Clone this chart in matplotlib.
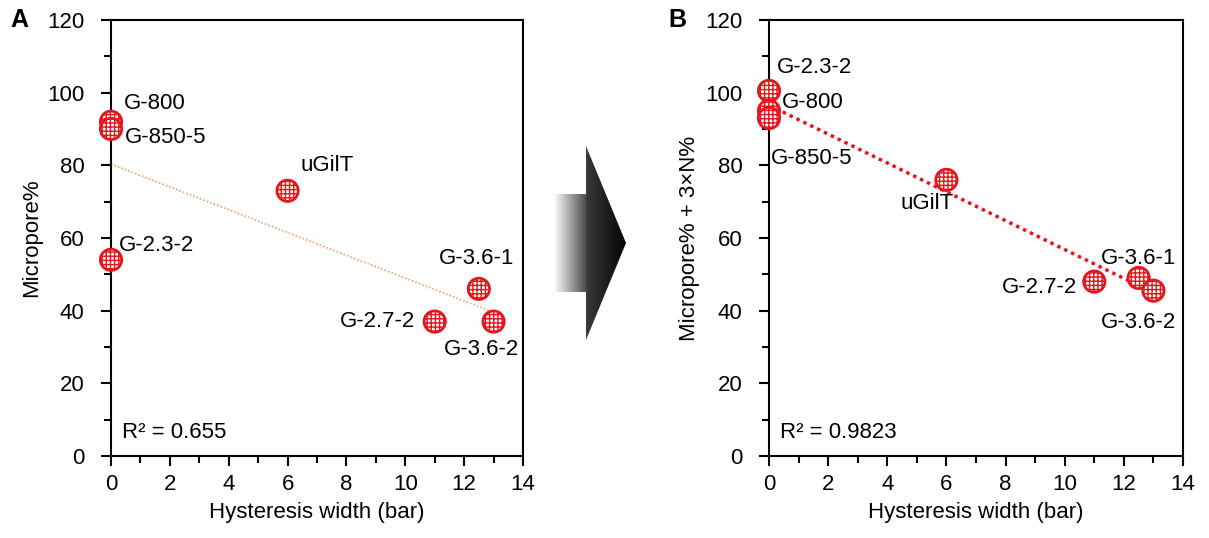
### RECREATE HYSTERESIS WIDTH VS MICROPORE PANELS ###
import numpy as np
import matplotlib.pyplot as plt
from matplotlib.path import Path
from matplotlib.patches import PathPatch
from matplotlib.ticker import MultipleLocator

plt.rcParams['font.family'] = ['Liberation Sans', 'DejaVu Sans']
plt.rcParams['hatch.color'] = '#e8141c'
plt.rcParams['hatch.linewidth'] = 1.0

### DATA ###
names_a = ['G-800', 'G-850-5', 'G-2.3-2', 'uGilT', 'G-2.7-2', 'G-3.6-1', 'G-3.6-2']
width_a = [0, 0, 0, 6, 11, 12.5, 13]
micro_a = [92, 90, 54, 73, 37, 46, 37]

names_b = ['G-2.3-2', 'G-800', 'G-850-5', 'uGilT', 'G-2.7-2', 'G-3.6-1', 'G-3.6-2']
width_b = [0, 0, 0, 6, 11, 12.5, 13]
micro_b = [100.5, 95, 93, 76, 48, 49, 45.5]

# label offsets in points (dx, dy, ha)
offs_a = {'G-800': (9, 13, 'left'), 'G-850-5': (10, -6, 'left'), 'G-2.3-2': (6, 10, 'left'),
          'uGilT': (9, 18, 'left'), 'G-2.7-2': (-14, 0, 'right'),
          'G-3.6-1': (-2, 22, 'center'), 'G-3.6-2': (-9, -20, 'center')}
offs_b = {'G-2.3-2': (6, 17, 'left'), 'G-800': (9, 6, 'left'), 'G-850-5': (1, -29, 'left'),
          'uGilT': (-14, -17, 'center'), 'G-2.7-2': (-12, -4, 'right'),
          'G-3.6-1': (0, 14, 'center'), 'G-3.6-2': (-11, -23, 'center')}

RED = '#e8141c'
FS = 16

fig = plt.figure(figsize=(12.09, 5.38), dpi=100)
ax_a = fig.add_axes([111 / 1209, 1 - 456 / 538, 412 / 1209, 436 / 538])
ax_b = fig.add_axes([769 / 1209, 1 - 456 / 538, 414 / 1209, 436 / 538])


def style_axis(ax, ylabel):
    ax.set_xlim(0, 14)
    ax.set_ylim(0, 120)
    ax.xaxis.set_major_locator(MultipleLocator(2))
    ax.xaxis.set_minor_locator(MultipleLocator(1))
    ax.yaxis.set_major_locator(MultipleLocator(20))
    ax.yaxis.set_minor_locator(MultipleLocator(10))
    ax.tick_params(which='both', direction='out', width=1.5, labelsize=FS)
    ax.tick_params(which='major', length=7)
    ax.tick_params(which='minor', length=5)
    ax.tick_params(axis='x', which='major', pad=6)
    ax.tick_params(axis='y', which='major', pad=12)
    for s in ax.spines.values():
        s.set_linewidth(1.5)
    ax.set_xlabel('Hysteresis width (bar)', fontsize=FS, labelpad=5)
    ax.set_ylabel(ylabel, fontsize=FS, labelpad=4)


def plot_panel(ax, x, y, names, offs, line_color, line_w, r2):
    x = np.array(x)
    y = np.array(y)
    k, b = np.polyfit(x, y, 1)
    xx = np.array([0, x.max()])
    ax.plot(xx, k * xx + b, ls=(0, (1, 1.2)), color=line_color, lw=line_w, zorder=2)
    ax.scatter(x, y, s=235, facecolor='white', edgecolor=RED, linewidth=2,
               hatch='++++', zorder=3, clip_on=False)
    for n, xi, yi in zip(names, x, y):
        dx, dy, ha = offs[n]
        ax.annotate(n, (xi, yi), xytext=(dx, dy), textcoords='offset points',
                    ha=ha, va='center', fontsize=FS)
    ax.text(0.026, 0.055, r2, transform=ax.transAxes, fontsize=FS, va='center')


style_axis(ax_a, 'Micropore%')
style_axis(ax_b, 'Micropore% + 3×N%')
plot_panel(ax_a, width_a, micro_a, names_a, offs_a, '#f0a070', 1.2, 'R² = 0.655')
plot_panel(ax_b, width_b, micro_b, names_b, offs_b, RED, 2.5, 'R² = 0.9823')

fig.text(10 / 1209, 1 - 20 / 538, 'A', fontsize=18, fontweight='bold', va='center')
fig.text(668 / 1209, 1 - 20 / 538, 'B', fontsize=18, fontweight='bold', va='center')

### GRADIENT ARROW BETWEEN PANELS ###
ax_arr = fig.add_axes([0, 0, 1, 1], zorder=-1)
ax_arr.set_xlim(0, 1209)
ax_arr.set_ylim(538, 0)
ax_arr.axis('off')
verts = [(555, 194), (586, 194), (586, 146), (626, 243), (586, 340),
         (586, 292), (555, 292), (555, 194)]
path = Path(verts, [Path.MOVETO] + [Path.LINETO] * 6 + [Path.CLOSEPOLY])
patch = PathPatch(path, facecolor='none', edgecolor='none')
ax_arr.add_patch(patch)
px = np.linspace(555, 626, 300)
grad = np.interp(px, [555, 586, 587, 626], [0.97, 0.3, 0.22, 0.02]).reshape(1, -1)
im = ax_arr.imshow(grad, extent=[555, 626, 340, 146], cmap='gray', vmin=0, vmax=1,
                   aspect='auto')
im.set_clip_path(patch)

fig.savefig('out.png', dpi=100)
